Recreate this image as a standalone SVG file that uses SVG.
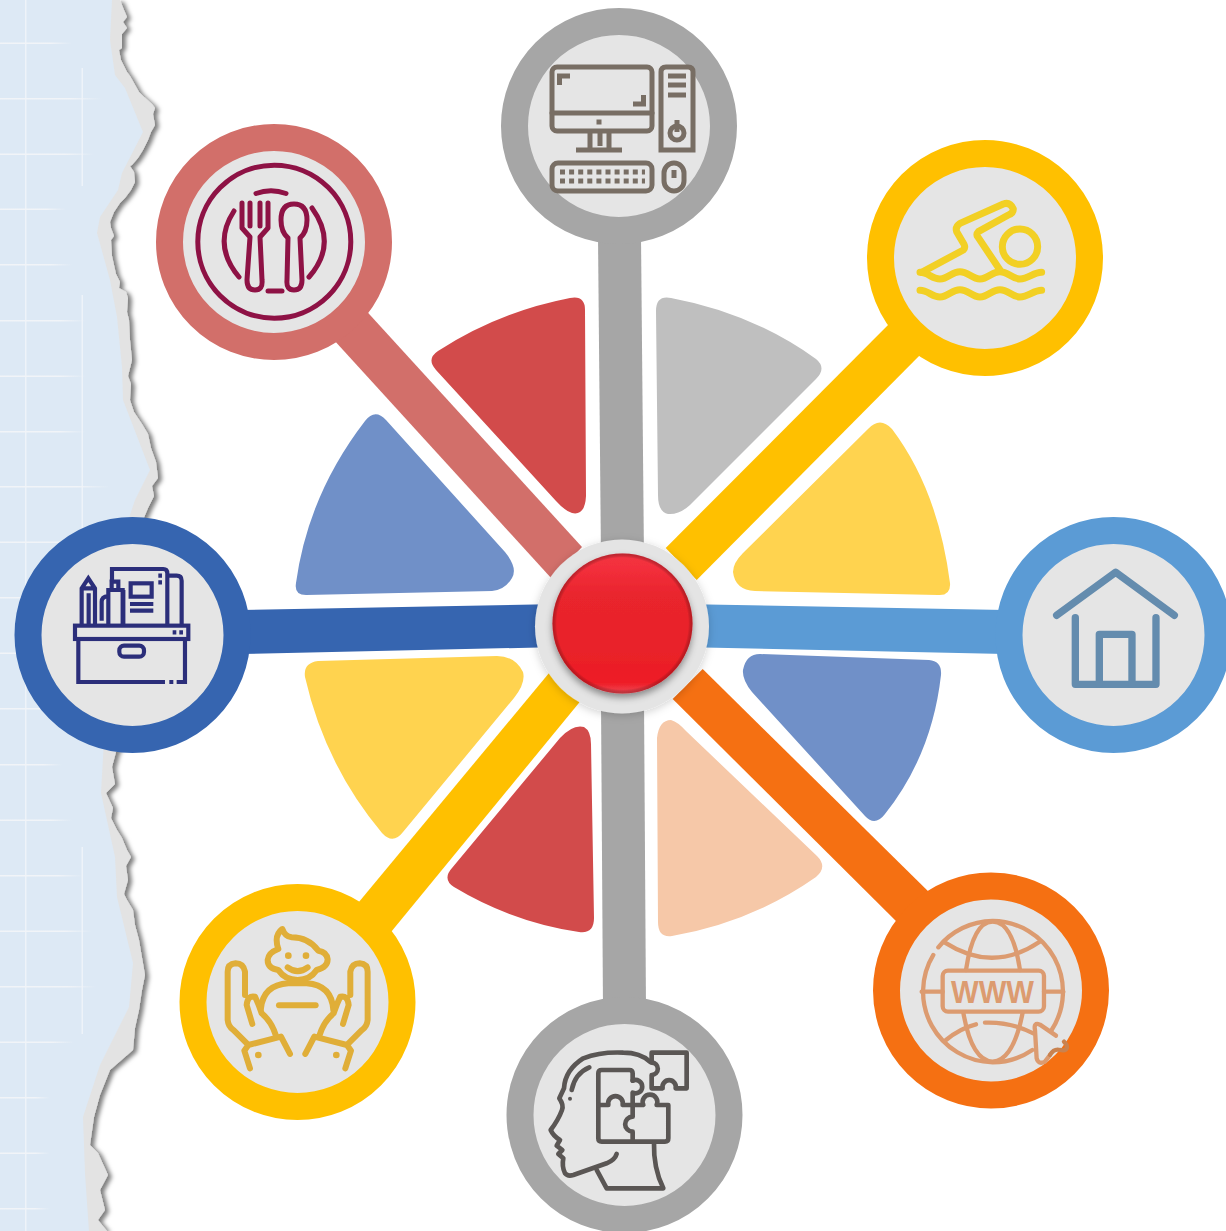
<svg xmlns="http://www.w3.org/2000/svg" width="1226" height="1231" viewBox="0 0 1226 1231">
<style>
.ring{stroke-width:27;fill:#e5e5e5}
.ic{fill:none;stroke-linecap:round;stroke-linejoin:round}
.sq{stroke-linecap:butt;stroke-linejoin:miter}
.grid rect{fill:url(#gh)}
.grid .v{fill:#eef3f9}
</style>
<defs>
<linearGradient id="gh"><stop offset="0" stop-color="#f1f4f8"/><stop offset=".7" stop-color="#f1f4f8"/><stop offset="1" stop-color="#f1f4f8" stop-opacity="0"/></linearGradient>
<linearGradient id="red" x1="0" y1="0" x2="0" y2="1"><stop offset="0" stop-color="#f23241"/><stop offset=".1" stop-color="#f32f3c"/><stop offset=".3" stop-color="#e9252d"/><stop offset=".7" stop-color="#e92229"/><stop offset=".92" stop-color="#ee1b25"/><stop offset="1" stop-color="#ef4a55"/></linearGradient>
<radialGradient id="rim" cx=".5" cy=".5" r=".5"><stop offset=".94" stop-color="#000" stop-opacity="0"/><stop offset="1" stop-color="#6a0f14" stop-opacity=".4"/></radialGradient>
<filter id="paperShadow" x="-20%" y="-5%" width="150%" height="110%"><feDropShadow dx="4" dy="2" stdDeviation="2" flood-color="#000" flood-opacity=".5"/></filter>
<filter id="haloShadow" x="-20%" y="-20%" width="140%" height="140%"><feDropShadow dx="0" dy="2" stdDeviation="4" flood-color="#000" flood-opacity=".18"/></filter>
<filter id="btnShadow" x="-20%" y="-20%" width="140%" height="140%"><feDropShadow dx="0" dy="4" stdDeviation="3.5" flood-color="#000" flood-opacity=".4"/></filter>
</defs>
<rect width="1226" height="1231" fill="#fff"/>

<g id="torn-paper">
<path filter="url(#paperShadow)" fill="#e3e3e3" d="M120,0 L124,10 L127,17 L123,22 L127,28 L122,34 L122,48 L119,50 L121,60 L124,66 L127,72 L130,76 L134,83 L139,92 L143,96 L152,104 L155,108 L153,114 L155,125 L151,132 L148,140 L143,150 L138,158 L132,165 L130,166 L134,172 L135,182 L131,190 L125,198 L120,203 L114,212 L110,222 L111,228 L114,236 L111,240 L112,256 L116,274 L120,282 L119,288 L126,292 L128,298 L127,312 L129,320 L130,340 L132,360 L128,376 L131,384 L130,400 L134,412 L142,424 L148,434 L151,448 L156,462 L158,478 L152,486 L154,496 L148,508 L143,520 L140,540 L130,640 L120,745 L116,752 L112,767 L115,784 L106,793 L113,808 L111,818 L117,830 L122,838 L127,850 L131,857 L126,866 L128,880 L124,894 L127,900 L133,910 L135,925 L139,940 L145,975 L142,990 L139,1010 L135,1028 L133,1050 L110,1070 L100,1095 L94,1117 L90,1145 L98,1153 L108,1175 L100,1190 L105,1210 L98,1220 L107,1231 L0,1231 L0,0 Z"/>
<path fill="#dde9f5" d="M112,0 L110,40 L115,75 L125,88 L143,132 L122,173 L118,190 L100,217 L97,233 L110,280 L117,317 L122,367 L123,400 L150,470 L135,500 L125,530 L115,600 L104,740 L101,793 L115,857 L117,897 L133,963 L129,1007 L100,1065 L83,1117 L85,1173 L89,1231 L0,1231 L0,0 Z"/>
<g class="grid">
<rect class="v" x="25" y="0" width="1.5" height="1231"/>
<rect class="v" x="81.5" y="68" width="1.5" height="118"/>
<rect class="v" x="81.5" y="295" width="1.5" height="250"/>
<rect class="v" x="81.5" y="847" width="1.5" height="187"/>
<rect y="42.5" width="72" height="1.5"/><rect y="98" width="102" height="1.5"/><rect y="153.5" width="94" height="1.5"/><rect y="208.5" width="66" height="1.5"/><rect y="264" width="72" height="1.5"/><rect y="320" width="86" height="1.5"/><rect y="375.5" width="86" height="1.5"/><rect y="431" width="86" height="1.5"/><rect y="486" width="110" height="1.5"/><rect y="541.5" width="90" height="1.5"/><rect y="597" width="80" height="1.5"/><rect y="652.5" width="80" height="1.5"/><rect y="708" width="80" height="1.5"/><rect y="764" width="62" height="1.5"/><rect y="819.5" width="72" height="1.5"/><rect y="875" width="83" height="1.5"/><rect y="930.5" width="92" height="1.5"/><rect y="986" width="96" height="1.5"/><rect y="1041.5" width="74" height="1.5"/><rect y="1097" width="50" height="1.5"/><rect y="1152.5" width="50" height="1.5"/><rect y="1208" width="50" height="1.5"/>
</g>
</g>

<g id="petals">
<path fill="#d24b4b" d="M570,298 Q585,295 585,310 L586,496 Q585,516 572,513 Q565,511 556,501 L436,370 Q426,359 438,351 Q498,312 570,298 Z"/>
<path fill="#bfbfbf" d="M656,311 Q656,295 671,298 Q752,313 816,359 Q827,368 816,379 L690,505 Q679,515 668,514 Q658,512 658,495 Z"/>
<path fill="#ffd34f" d="M868,429 Q880,416 892,429 Q938,490 950,583 Q951,596 938,595 L755,591 Q735,590 733,572 Q733,563 743,553 Z"/>
<path fill="#7090c8" d="M760,654 L929,660 Q942,661 941,675 Q932,755 885,814 Q875,827 865,816 L752,692 Q742,680 743,670 Q746,654 760,654 Z"/>
<path fill="#f6c8a8" d="M657,738 Q659,720 671,720 Q678,722 686,731 L817,856 Q828,867 816,877 Q752,922 672,936 Q658,938 658,922 Z"/>
<path fill="#d24b4b" d="M560,738 Q573,724 584,727 Q591,731 591,744 L594,918 Q594,934 579,932 Q512,922 454,887 Q442,879 452,868 Z"/>
<path fill="#ffd34f" d="M318,661 L497,656 Q515,656 523,672 Q526,683 514,698 L403,832 Q393,845 382,833 Q325,765 305,677 Q303,663 318,661 Z"/>
<path fill="#7090c8" d="M365,421 Q375,408 386,420 L505,552 Q518,568 512,578 Q505,590 492,591 L306,595 Q294,595 296,583 Q308,495 365,421 Z"/>
</g>

<g id="connectors">
<polygon fill="#a6a6a6" points="598,236 641,236 644,560 601,560"/>
<polygon fill="#a6a6a6" points="601,700 644,700 646,1010 603,1010"/>
<polygon fill="#d26f6a" points="360,304 582,547 552,579 328,333.500"/>
<polygon fill="#ffc000" points="896,317 925,350 696.700,580 665.700,548"/>
<polygon fill="#3665b0" points="240,610 560,604 560,647 240,654"/>
<polygon fill="#5b9bd5" points="680,604 1005,610 1005,654 680,647"/>
<polygon fill="#ffc000" points="550.700,671 583,698 382,943 350,912.700"/>
<polygon fill="#f57012" points="702.700,669 936,899 905,930 672.700,699"/>
</g>

<g id="node-computer">
<circle class="ring" cx="619" cy="126" r="104.5" stroke="#a6a6a6"/>
<g class="ic" stroke="#786e64" stroke-width="5">
<rect x="552" y="67" width="100" height="64" rx="5"/>
<path d="M552,113 H652"/>
<path class="sq" d="M559.500,85 V76 H570 M633,104 H643.500 V95 M590,131 V150 M609,131 V150 M600,131 V146 M576,150 H622"/>
<path d="M661,150 V72 Q661,67 666,67 H688 Q693,67 693,72 V150 Z" class="sq"/>
<path class="sq" d="M668,76 H686 M668,85 H686 M668,95 H686 M677,120 V132"/>
<circle cx="677" cy="133" r="7"/>
<rect x="552" y="163" width="100" height="28" rx="6"/>
<path class="sq" d="M560,172 H645 M560,181 H645" stroke-width="5" stroke-dasharray="5 4.100"/>
<rect x="664" y="163" width="20" height="28" rx="10"/>
<path class="sq" d="M674,170 V178"/>
<rect x="596.500" y="119.500" width="5" height="5" fill="#786e64" stroke="none"/>
</g>
</g>

<g id="node-food">
<circle class="ring" cx="274" cy="242" r="104.5" stroke="#d26f6a"/>
<g class="ic" stroke="#8e1245" stroke-width="5">
<circle cx="274.300" cy="241.700" r="76.500"/>
<path d="M256,193.500 Q271,188 286,193.500"/>
<path d="M234,211 Q212,245 239,277"/>
<path d="M312,208 Q338,244 309,277"/>
<path d="M268,291 H282"/>
<path d="M242,203 V228 L250,237 L247,280 Q247,290 255,290 Q263,290 262,280 L260,237 L268,228 V203 M250,203 V226 M260,203 V226"/>
<path d="M288,238 Q281,232 281,220 Q281,204 294,204 Q307,204 307,220 Q307,232 300,238 L302,280 Q302,290 294,290 Q286,290 287,280 Z"/>
</g>
</g>

<g id="node-swim">
<circle class="ring" cx="985" cy="258" r="104.5" stroke="#ffc000"/>
<g class="ic" stroke="#f2d024" stroke-width="21" transform="translate(860 135) scale(.3333)">
<circle cx="480" cy="335" r="53"/>
<path d="M185,412 L310,345 Q317,338 312,328 L290,290 Q285,275 300,265 L430,207 Q450,200 460,222 Q460,235 445,240 L355,290 Q348,297 353,305 L420,405"/>
<path d="M180,412 C205,412 215,432 240,432 S275,410 300,410 S335,432 360,432 S395,410 420,410 S455,432 480,432 S520,412 545,412"/>
<path d="M180,466 C205,466 215,486 240,486 S275,464 300,464 S335,486 360,486 S395,464 420,464 S455,486 480,486 S520,466 545,466"/>
</g>
</g>

<g id="node-storage">
<circle class="ring" cx="132.500" cy="635" r="104.5" stroke="#3665b0"/>
<g class="ic sq" stroke="#2b2e7a" stroke-width="12.500" transform="translate(10 510) scale(.3333)">
<rect x="195" y="347" width="340" height="40"/>
<path d="M205,387 V516 H465 M478,516 H490 M500,516 H525 V387"/>
<rect x="328" y="407" width="74" height="33" rx="14"/>
<path d="M215,347 V235 L235,205 L255,235 V347 M215,235 H255 M236,250 V347"/>
<path d="M275,332 V275 Q275,260 295,258 V240 H338 V347 M295,258 V347 M305,240 V215 H325 V240"/>
<path d="M306,215 V177 H460 Q472,177 472,190 V347 M340,240 V347"/>
<path d="M475,197 H500 Q515,197 515,212 V347"/>
<rect x="362" y="220" width="63" height="40"/>
<path d="M360,282 H430 M360,302 H430"/>
<path d="M445,197 H456 M445,217 H456 M488,367 H499 M508,367 H519"/>
</g>
</g>

<g id="node-childcare">
<circle class="ring" cx="297.500" cy="1002" r="104.5" stroke="#ffc000"/>
<g class="ic" stroke="#e0ae38" stroke-width="18" transform="translate(175 880) scale(.3333)">
<path d="M322,147 Q305,160 305,180 Q305,195 310,207 Q280,218 278,240 Q278,265 310,270 Q330,300 368,300 Q405,300 425,270 Q458,262 458,238 Q455,215 430,212 Q400,172 350,172 Q330,170 322,147 Z"/>
<path d="M338,262 Q368,285 398,262"/>
<path d="M258,385 Q265,315 340,310 H395 Q470,315 475,390"/>
<path d="M312,376 H422"/>
<path d="M210,345 V275 Q205,250 182,250 Q158,252 158,275 V420 Q160,440 175,450 L220,495 L208,512 L225,565 M220,495 L318,470 L345,522 M232,432 L215,375 Q218,345 240,350 Q250,370 260,400 Q290,425 302,465"/>
<path d="M526,345 V275 Q531,250 554,250 Q578,252 578,275 V420 Q576,440 561,450 L516,495 L528,512 L511,565 M516,495 L418,470 L391,522 M504,432 L521,375 Q518,345 496,350 Q486,370 476,400 Q446,425 434,465"/>
<g fill="#e0ae38" stroke="none">
<circle cx="340" cy="227" r="10"/><circle cx="393" cy="227" r="10"/><circle cx="250" cy="525" r="10"/><circle cx="484" cy="525" r="10"/>
</g>
</g>
</g>

<g id="node-puzzle">
<circle class="ring" cx="624.500" cy="1115" r="104.5" stroke="#a6a6a6"/>
<g class="ic" stroke="#5a5654" stroke-width="14" transform="translate(500 990) scale(.3333)">
<path d="M450,215 Q420,188 370,188 Q300,185 250,205 Q195,240 192,295 L178,325 Q192,345 186,360 Q175,390 152,420 Q160,438 180,450 L170,467 L187,480 L175,492 L190,505 Q185,530 195,550 Q203,560 220,555 L320,520 Q345,510 350,492"/>
<path d="M290,540 L320,595 H490 Q460,535 462,458"/>
<path d="M268,232 Q225,250 215,300"/>
<path d="M398,272 V250 Q398,240 388,240 H305 Q295,240 295,250 V445 Q295,455 305,455 H495 Q505,455 505,445 V345 H470 A22,22 0 1 0 430,345 H398 V380 A22,22 0 1 0 398,425 V455"/>
<path d="M295,345 H325 A22,22 0 1 1 368,345 H398"/>
<path d="M398,272 A20,20 0 1 1 398,308 V345"/>
<path d="M455,218 V188 H560 V295 H527 A20,20 0 1 0 488,295 H455 V255 A18,18 0 1 0 455,218"/>
<circle cx="210" cy="326" r="6" fill="#5a5654" stroke="none"/>
</g>
</g>

<g id="node-web">
<circle class="ring" cx="991" cy="990.500" r="104.5" stroke="#f57012"/>
<g class="ic" stroke="#dc9b70" stroke-width="13" transform="translate(870 870) scale(.3333)">
<path d="M205,232 A212,212 0 0 1 368,153 A212,212 0 0 1 545,480 M487,540 A212,212 0 0 1 368,577 A212,212 0 0 1 190,255"/>
<path d="M288,300 Q310,155 368,155 Q428,155 450,300 M280,428 Q305,572 368,575 Q430,572 458,428"/>
<path d="M225,218 Q368,310 508,216"/>
<path d="M228,510 Q270,475 318,463 M345,458 Q420,455 490,490"/>
<rect x="218" y="302" width="304" height="123" rx="16"/>
<path d="M155,365 H218 M522,365 H580"/>
<path d="M558,497 L510,464 Q490,456 495,480 L500,565 Q505,585 525,575 L540,555"/>
<path d="M540,555 Q552,535 570,540 Q595,545 590,525 L582,515" stroke="#c9824f"/>
</g>
<text x="992.500" y="1003" font-family="'Liberation Sans',Arial,sans-serif" font-weight="700" font-size="31" text-anchor="middle" textLength="83" lengthAdjust="spacingAndGlyphs" fill="#dc9b70">WWW</text>
</g>

<g id="node-home">
<circle class="ring" cx="1113.500" cy="635" r="104.5" stroke="#5b9bd5"/>
<g class="ic" stroke="#648cae" stroke-width="22" transform="translate(990 510) scale(.3333)">
<path d="M200,316 L377,187 L553,316"/>
<path d="M256,323 V523 H498 V323"/>
<path d="M328,523 V373 H426 V523"/>
</g>
</g>

<g id="node-center">
<circle cx="622" cy="626.500" r="87" fill="#e4e4e4" filter="url(#haloShadow)"/>
<circle cx="622.500" cy="623.500" r="70" fill="url(#red)" filter="url(#btnShadow)"/>
<circle cx="622.500" cy="623.500" r="70" fill="url(#rim)"/>
</g>
</svg>
